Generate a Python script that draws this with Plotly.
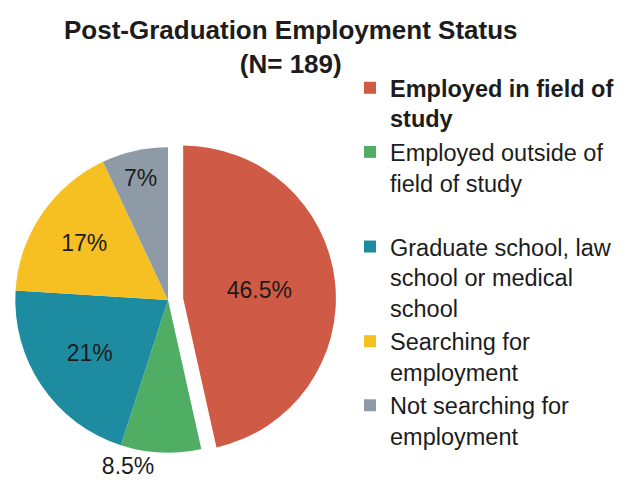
import plotly.graph_objects as go

# Survey results, share of graduates in each outcome (percent)
categories = [
    "<b>Employed in field of<br>study</b>",
    "Employed outside of<br>field of study<br> ",
    "Graduate school, law<br>school or medical<br>school",
    "Searching for<br>employment",
    "Not searching for<br>employment",
]
shares = [46.5, 8.5, 21, 17, 7]
colors = ["#CF5A45", "#4FAE64", "#1E8CA0", "#F6C022", "#8E9BA6"]
label_pos = ["inside", "outside", "inside", "inside", "inside"]
pull = [0.1, 0, 0, 0, 0]

title_text = "<b>Post-Graduation Employment Status<br>(N= 189)</b>"

FONT = "Liberation Sans, Arial, sans-serif"

fig = go.Figure(
    go.Pie(
        labels=categories,
        values=shares,
        sort=False,
        direction="clockwise",
        rotation=0,
        pull=pull,
        marker=dict(colors=colors, line=dict(width=0)),
        texttemplate="%{value}%",
        textposition=label_pos,
        insidetextorientation="horizontal",
        textfont=dict(family=FONT, size=23, color="#1c1c1c"),
        domain=dict(x=[0, 0.535], y=[0.0507, 0.7322]),
        hoverinfo="label+percent",
    )
)

fig.update_layout(
    width=628,
    height=493,
    margin=dict(l=0, r=0, t=0, b=0, autoexpand=False),
    paper_bgcolor="white",
    plot_bgcolor="white",
    font=dict(family=FONT, color="#1c1c1c"),
    title=dict(
        text=title_text,
        x=0.463,
        xanchor="center",
        xref="container",
        y=1 - 39 / 493,
        yanchor="top",
        yref="container",
        font=dict(family=FONT, size=26, color="#1c1c1c"),
    ),
    legend=dict(
        x=350 / 628,
        xanchor="left",
        y=1 - 66 / 493,
        yanchor="top",
        valign="top",
        font=dict(family=FONT, size=23.5, color="#1c1c1c"),
        bgcolor="rgba(0,0,0,0)",
    ),
    uniformtext=dict(minsize=18, mode="show"),
)

fig.write_html("out.html")
